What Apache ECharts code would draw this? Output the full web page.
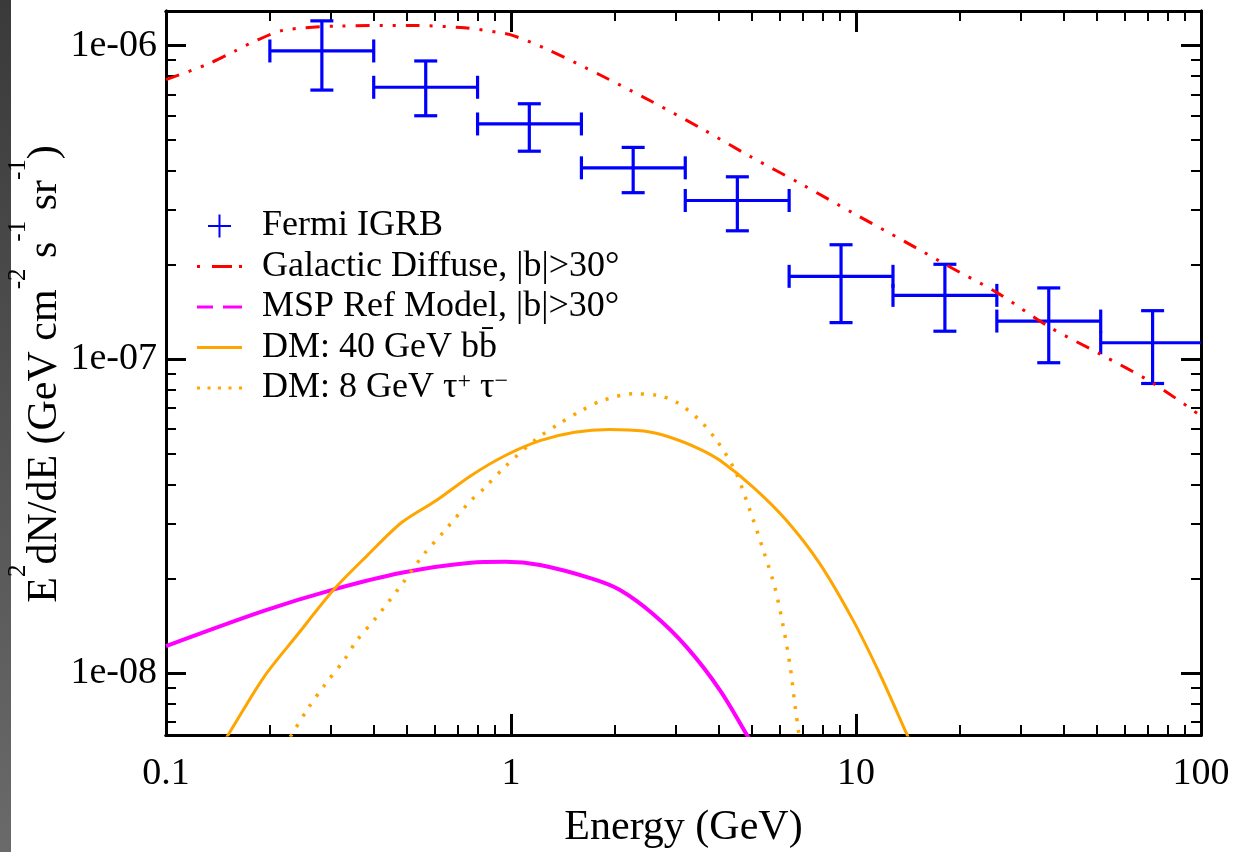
<!DOCTYPE html>
<html>
<head>
<meta charset="utf-8">
<title>IGRB spectrum</title>
<script src="https://cdn.jsdelivr.net/npm/echarts@6/dist/echarts.min.js"></script>
<style>
  html, body { margin: 0; padding: 0; background: #fff; }
  #chart { width: 1241px; height: 852px; }
</style>
</head>
<body>
<div id="chart"></div>
<script>
// Fermi IGRB points: bin centre, bin edges, flux and its error range
const fermiEnergy = [0.283, 0.566, 1.13, 2.26, 4.53, 9.05, 18.1, 36.2, 72.4];
const fermiBinLow = [0.2, 0.4, 0.8, 1.6, 3.2, 6.4, 12.8, 25.6, 51.2];
const fermiBinHigh = [0.4, 0.8, 1.6, 3.2, 6.4, 12.8, 25.6, 51.2, 102.4];
const fermiFlux = [9.62e-7, 7.37e-7, 5.63e-7, 4.08e-7, 3.21e-7, 1.84e-7, 1.60e-7, 1.325e-7, 1.13e-7];
const fermiFluxLow = [7.22e-7, 5.98e-7, 4.61e-7, 3.40e-7, 2.57e-7, 1.31e-7, 1.23e-7, 9.76e-8, 8.38e-8];
const fermiFluxHigh = [1.20e-6, 8.94e-7, 6.53e-7, 4.74e-7, 3.82e-7, 2.32e-7, 2.01e-7, 1.69e-7, 1.43e-7];

// model curves, [energy GeV, E^2 dN/dE]
const galacticDiffuse = [
  [0.1, 7.8e-7], [0.131, 8.7e-7], [0.158, 9.6e-7], [0.183, 1.04e-6], [0.219, 1.12e-6],
  [0.317, 1.155e-6], [0.512, 1.16e-6], [0.733, 1.14e-6], [0.932, 1.10e-6], [1.02, 1.075e-6],
  [1.27, 9.75e-7], [1.82, 8.05e-7], [2.55, 6.65e-7], [3.56, 5.45e-7], [4.91, 4.45e-7],
  [7.01, 3.6e-7], [9.79, 2.93e-7], [13.9, 2.37e-7], [18.9, 1.96e-7], [25.7, 1.63e-7],
  [36.3, 1.27e-7], [50.6, 1.045e-7], [72.6, 8.4e-8], [100, 6.6e-8]
];
const mspModel = [
  [0.1, 1.22e-8], [0.192, 1.58e-8], [0.307, 1.85e-8], [0.482, 2.09e-8], [0.765, 2.25e-8],
  [0.963, 2.265e-8], [1.214, 2.21e-8], [1.716, 2.0e-8], [2.07, 1.84e-8], [2.585, 1.54e-8],
  [3.23, 1.21e-8], [4.04, 8.8e-9], [4.85, 6.3e-9], [5.2, 5.5e-9]
];
const dmBB40 = [
  [0.14, 5.55e-9], [0.152, 6.4e-9], [0.192, 9.7e-9], [0.241, 1.33e-8], [0.307, 1.85e-8],
  [0.383, 2.37e-8], [0.482, 3.02e-8], [0.607, 3.55e-8], [0.765, 4.26e-8], [0.963, 4.94e-8],
  [1.214, 5.51e-8], [1.529, 5.86e-8], [1.925, 5.98e-8], [2.425, 5.91e-8], [2.89, 5.65e-8],
  [3.51, 5.19e-8], [4.04, 4.76e-8], [5.04, 3.91e-8], [6.30, 3.06e-8], [7.86, 2.23e-8],
  [9.82, 1.47e-8], [11.74, 9.9e-9], [14.03, 6.4e-9], [14.6, 5.8e-9]
];
const dmTau8 = [
  [0.22, 5.8e-9], [0.232, 6.4e-9], [0.259, 7.77e-9], [0.287, 9.1e-9], [0.33, 1.11e-8],
  [0.357, 1.27e-8], [0.406, 1.5e-8], [0.488, 1.95e-8], [0.56, 2.4e-8], [0.636, 2.81e-8],
  [0.756, 3.5e-8], [0.839, 3.9e-8], [0.963, 4.56e-8], [1.186, 5.58e-8], [1.377, 6.23e-8],
  [1.601, 6.87e-8], [1.838, 7.39e-8], [2.264, 7.77e-8], [2.66, 7.68e-8], [3.02, 7.3e-8],
  [3.49, 6.46e-8], [3.95, 5.51e-8], [4.46, 4.42e-8], [4.93, 3.3e-8], [5.39, 2.46e-8],
  [5.82, 1.875e-8], [6.16, 1.4e-8], [6.44, 1.055e-8], [6.66, 7.86e-9], [6.81, 6.54e-9],
  [6.9, 5.8e-9]
];

// ticks
const xTickValues = [0.1, 1, 10, 100];
const xTickLabels = ['0.1', '1', '10', '100'];
const xMinorTicks = [0.2, 0.3, 0.4, 0.5, 0.6, 0.7, 0.8, 0.9, 2, 3, 4, 5, 6, 7, 8, 9, 20, 30, 40, 50, 60, 70, 80, 90];
const yTickValues = [1e-8, 1e-7, 1e-6];
const yTickLabels = ['1e-08', '1e-07', '1e-06'];
const yMinorTicks = [7e-9, 8e-9, 9e-9, 2e-8, 3e-8, 4e-8, 5e-8, 6e-8, 7e-8, 8e-8, 9e-8,
  2e-7, 3e-7, 4e-7, 5e-7, 6e-7, 7e-7, 8e-7, 9e-7];

const seriesNames = ['Fermi IGRB', 'Galactic Diffuse, |b|>30°', 'MSP Ref Model, |b|>30°',
  'DM: 40 GeV bb\u0304', 'DM: 8 GeV \u03c4+ \u03c4\u2212'];

const FONT = '"Liberation Serif", "Times New Roman", serif';
const X_MIN = 0.1, X_MAX = 100, Y_MIN = 6.35e-9, Y_MAX = 1.29e-6;

function pickLabel(values, labels, v) {
  for (let i = 0; i < values.length; i++) {
    if (Math.abs(Math.log10(v) - Math.log10(values[i])) < 1e-6) return labels[i];
  }
  return '';
}

// one axis per side for long ticks (with labels on bottom/left), one more for short ticks
function frameAxis(dim, position, tickValues, tickLen, tickWidth, labelOpt) {
  return {
    type: 'log',
    logBase: 10,
    position: position,
    min: dim === 'x' ? X_MIN : Y_MIN,
    max: dim === 'x' ? X_MAX : Y_MAX,
    axisLine: { show: true, onZero: false, lineStyle: { color: '#000', width: 3 } },
    axisTick: { show: true, inside: true, length: tickLen, customValues: tickValues, lineStyle: { color: '#000', width: tickWidth } },
    axisLabel: labelOpt || { show: false },
    splitLine: { show: false },
    minorTick: { show: false },
    minorSplitLine: { show: false }
  };
}

const xLabel = {
  show: true,
  customValues: xTickValues,
  margin: 20,
  color: '#000',
  fontFamily: FONT,
  fontSize: 38,
  formatter: function (v) { return pickLabel(xTickValues, xTickLabels, v); }
};
const yLabel = {
  show: true,
  customValues: yTickValues,
  margin: 9,
  color: '#000',
  fontFamily: FONT,
  fontSize: 38,
  formatter: function (v) { return pickLabel(yTickValues, yTickLabels, v); }
};

const xMain = frameAxis('x', 'bottom', xTickValues, 21, 3, xLabel);
xMain.name = 'Energy (GeV)';
xMain.nameLocation = 'middle';
xMain.nameGap = 72;
xMain.nameTextStyle = { color: '#000', fontFamily: FONT, fontSize: 42 };

const yMain = frameAxis('y', 'left', yTickValues, 20, 3, yLabel);

// legend marks, each padded to the 45x24 legend box
const BOX = 'M0,0L0,0ZM45,24L45,24Z';
const plusIcon = 'path://' + BOX + 'M11,11L34,11L34,13L11,13ZM21.5,0.5L23.5,0.5L23.5,23.5L21.5,23.5Z';
const dashDotIcon = 'path://' + BOX + 'M0,10.5L3,10.5L3,13.5L0,13.5ZM15,10.5L35,10.5L35,13.5L15,13.5ZM42,10.5L45,10.5L45,13.5L42,13.5Z';
const dashIcon = 'path://' + BOX + 'M0,10.5L16,10.5L16,13.5L0,13.5ZM26,10.5L45,10.5L45,13.5L26,13.5Z';
const solidIcon = 'path://' + BOX + 'M0,10.5L45,10.5L45,13.5L0,13.5Z';
const dotIcon = 'path://' + BOX + 'M0,10.5L3,10.5L3,13.5L0,13.5ZM10.5,10.5L13.5,10.5L13.5,13.5L10.5,13.5Z' +
  'M21,10.5L24,10.5L24,13.5L21,13.5ZM31.5,10.5L34.5,10.5L34.5,13.5L31.5,13.5ZM42,10.5L45,10.5L45,13.5L42,13.5Z';

const fermiData = fermiEnergy.map(function (e, i) {
  return [e, fermiFlux[i], fermiBinLow[i], fermiBinHigh[i], fermiFluxLow[i], fermiFluxHigh[i]];
});

function renderErrorBar(params, api) {
  const c = api.coord([api.value(0), api.value(1)]);
  const xl = api.coord([api.value(2), api.value(1)])[0];
  const xh = api.coord([api.value(3), api.value(1)])[0];
  const yl = api.coord([api.value(0), api.value(4)])[1];
  const yh = api.coord([api.value(0), api.value(5)])[1];
  const cap = 11.5;
  function seg(x1, y1, x2, y2) {
    return { type: 'line', shape: { x1: x1, y1: y1, x2: x2, y2: y2 }, style: { stroke: '#0000ff', lineWidth: 3.2 } };
  }
  return {
    type: 'group',
    children: [
      seg(xl, c[1], xh, c[1]),
      seg(xl, c[1] - cap, xl, c[1] + cap),
      seg(xh, c[1] - cap, xh, c[1] + cap),
      seg(c[0], yl, c[0], yh),
      seg(c[0] - cap, yl, c[0] + cap, yl),
      seg(c[0] - cap, yh, c[0] + cap, yh)
    ]
  };
}

function curve(name, data, color, width, dash) {
  return {
    name: name,
    type: 'line',
    data: data,
    symbol: 'none',
    smooth: 0.3,
    clip: true,
    silent: true,
    itemStyle: { color: color },
    lineStyle: { color: color, width: width, type: dash }
  };
}

const chart = echarts.init(document.getElementById('chart'));
chart.setOption({
  animation: false,
  backgroundColor: '#fff',
  grid: { left: 166, right: 40, top: 11, bottom: 117, outerBoundsMode: 'none' },
  xAxis: [
    xMain,
    frameAxis('x', 'bottom', xMinorTicks, 10, 2),
    frameAxis('x', 'top', xTickValues, 21, 3),
    frameAxis('x', 'top', xMinorTicks, 10, 2)
  ],
  yAxis: [
    yMain,
    frameAxis('y', 'left', yMinorTicks, 10, 2),
    frameAxis('y', 'right', yTickValues, 20, 3),
    frameAxis('y', 'right', yMinorTicks, 10, 2)
  ],
  graphic: [
    {
      // screen-edge shading seen at the left of the picture
      type: 'rect',
      left: 0, top: 0, silent: true,
      shape: { width: 11, height: 852 },
      style: { fill: new echarts.graphic.LinearGradient(0, 0, 0, 1, [{ offset: 0, color: '#3a3a3a' }, { offset: 1, color: '#6a6a6a' }]) }
    },
    {
      // y axis title, rotated, with raised exponents
      type: 'text',
      x: 36, y: 374, rotation: Math.PI / 2, silent: true,
      style: {
        text: '{m|E}{sup|2}{m|dN/dE (GeV cm}{sup|-2}{m| s}{sup|-1}{m| sr}{sup|-1}{m|)}',
        align: 'center', verticalAlign: 'middle',
        fill: '#000', fontFamily: FONT, fontSize: 42,
        rich: {
          m: { fill: '#000', fontFamily: FONT, fontSize: 42, lineHeight: 60, verticalAlign: 'bottom' },
          sup: { fill: '#000', fontFamily: FONT, fontSize: 25, lineHeight: 8, verticalAlign: 'top' }
        }
      }
    }
  ],
  legend: {
    orient: 'vertical',
    left: 192,
    top: 203,
    itemWidth: 45,
    itemHeight: 24,
    itemGap: 4.5,
    selectedMode: false,
    data: [
      { name: seriesNames[0], icon: plusIcon },
      { name: seriesNames[1], icon: dashDotIcon },
      { name: seriesNames[2], icon: dashIcon },
      { name: seriesNames[3], icon: solidIcon },
      { name: seriesNames[4], icon: dotIcon }
    ],
    formatter: function (name) {
      if (name === seriesNames[4]) return 'DM: 8 GeV \u03c4{sup|+} \u03c4{sup|\u2212}';
      return name;
    },
    textStyle: {
      color: '#000', fontFamily: FONT, fontSize: 36, lineHeight: 36, padding: [0, 0, 0, 15],
      rich: {
        sup: { color: '#000', fontFamily: FONT, fontSize: 24, lineHeight: 12, verticalAlign: 'top' }
      }
    }
  },
  series: [
    {
      name: seriesNames[0],
      type: 'custom',
      clip: true,
      silent: true,
      z: 3,
      itemStyle: { color: '#0000ff' },
      renderItem: renderErrorBar,
      data: fermiData
    },
    curve(seriesNames[1], galacticDiffuse, '#ff0000', 3, [14, 10, 3, 10, 3, 10]),
    curve(seriesNames[2], mspModel, '#ff00ff', 4, 'solid'),
    curve(seriesNames[3], dmBB40, '#ffa500', 3, 'solid'),
    curve(seriesNames[4], dmTau8, '#ffa500', 3.5, [3, 9])
  ]
});
</script>
</body>
</html>
